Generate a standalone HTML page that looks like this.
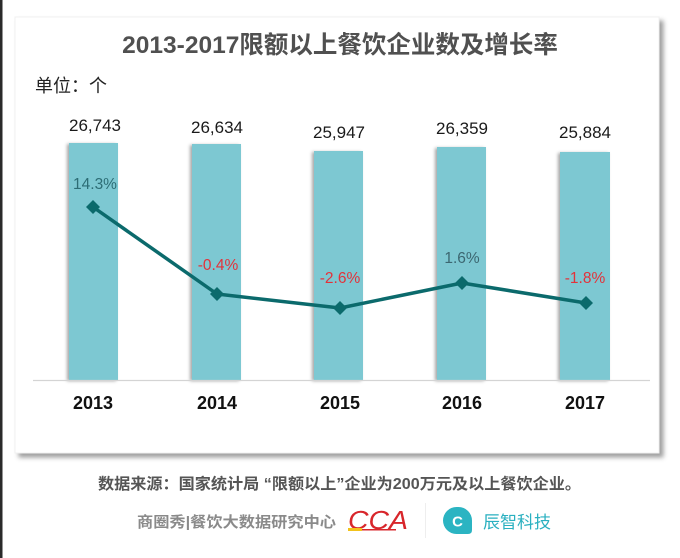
<!DOCTYPE html>
<html>
<head>
<meta charset="utf-8">
<style>
  html,body{margin:0;padding:0;background:#fff;}
  body{width:680px;height:558px;overflow:hidden;position:relative;}
  svg{position:absolute;left:0;top:0;}
  text{font-family:"Liberation Sans","Noto Sans CJK SC",sans-serif;}
</style>
</head>
<body>
<svg width="680" height="558" viewBox="0 0 680 558" xmlns="http://www.w3.org/2000/svg">
  <defs>
    <filter id="cardsh" x="-5%" y="-5%" width="115%" height="115%">
      <feDropShadow dx="4" dy="4" stdDeviation="2.5" flood-color="#000" flood-opacity="0.38"/>
    </filter>
    <filter id="barsh" x="-20%" y="-5%" width="140%" height="115%">
      <feDropShadow dx="-2" dy="1" stdDeviation="1.5" flood-color="#000" flood-opacity="0.35"/>
    </filter>
  </defs>

  <rect x="0" y="0" width="680" height="558" fill="#ffffff"/>
  <!-- left dark border -->
  <rect x="0" y="0" width="2.5" height="558" fill="#2a2a2a"/>

  <!-- card -->
  <rect x="15" y="17" width="644" height="436" fill="#ffffff" stroke="#f0f0f0" stroke-width="1" filter="url(#cardsh)"/>

  <!-- title -->
  <text x="340" y="53" text-anchor="middle" font-size="24.5" font-weight="bold" fill="#505050">2013-2017限额以上餐饮企业数及增长率</text>

  <!-- unit -->
  <text x="35" y="92" font-size="18" fill="#222">单位：个</text>

  <!-- bars -->
  <g fill="#7dc8d2" filter="url(#barsh)">
    <rect x="69" y="143" width="49" height="237"/>
    <rect x="192" y="144" width="49" height="236"/>
    <rect x="314" y="151" width="49" height="229"/>
    <rect x="437" y="147" width="49" height="233"/>
    <rect x="560" y="152" width="50" height="228"/>
  </g>

  <!-- axis -->
  <line x1="33" y1="380.5" x2="650" y2="380.5" stroke="#d4d4d4" stroke-width="1.2"/>

  <!-- value labels -->
  <g font-size="17" fill="#1a1a1a" text-anchor="middle">
    <text x="95" y="131">26,743</text>
    <text x="217" y="133">26,634</text>
    <text x="339" y="138">25,947</text>
    <text x="462" y="134">26,359</text>
    <text x="585" y="138">25,884</text>
  </g>

  <!-- line -->
  <polyline points="93,207 217,294 340,308 462,283 586,303" fill="none" stroke="#0b6a6c" stroke-width="3.5" stroke-linejoin="round"/>
  <g fill="#0b6a6c">
    <polygon points="93,200 100,207 93,214 86,207"/>
    <polygon points="217,287 224,294 217,301 210,294"/>
    <polygon points="340,301 347,308 340,315 333,308"/>
    <polygon points="462,276 469,283 462,290 455,283"/>
    <polygon points="586,296 593,303 586,310 579,303"/>
  </g>

  <!-- percentage labels -->
  <g font-size="15.5" text-anchor="middle">
    <text x="95" y="189" fill="#2d6d75">14.3%</text>
    <text x="218" y="270" fill="#e3323a">-0.4%</text>
    <text x="340" y="283" fill="#e3323a">-2.6%</text>
    <text x="462" y="263" fill="#3c6771">1.6%</text>
    <text x="585" y="283" fill="#e3323a">-1.8%</text>
  </g>

  <!-- year labels -->
  <g font-size="18" font-weight="bold" fill="#111" text-anchor="middle">
    <text x="93" y="409">2013</text>
    <text x="217" y="409">2014</text>
    <text x="340" y="409">2015</text>
    <text x="462" y="409">2016</text>
    <text x="585" y="409">2017</text>
  </g>

  <!-- source -->
  <text x="98" y="489" font-size="15.5" font-weight="bold" fill="#555" textLength="483" lengthAdjust="spacingAndGlyphs">数据来源：国家统计局 “限额以上”企业为200万元及以上餐饮企业。</text>

  <text x="137" y="527" font-size="15" font-weight="bold" fill="#8a8a8a" textLength="199" lengthAdjust="spacingAndGlyphs">商圈秀|餐饮大数据研究中心</text>

  <!-- CCA logo -->
  <text x="348" y="529" font-size="26" font-style="italic" font-family="Liberation Serif, serif" fill="#d8262b" textLength="60" lengthAdjust="spacingAndGlyphs">CCA</text>
  <rect x="348" y="528" width="14" height="3" fill="#f2c21b"/>
  <rect x="362" y="529" width="34" height="1.5" fill="#d8262b"/>

  <!-- divider -->
  <line x1="425.5" y1="503" x2="425.5" y2="538" stroke="#eeeeee" stroke-width="1"/>

  <!-- teal icon -->
  <path d="M443,520.5 A13.5,13.5 0 0 1 456.5,507 L458.5,507 A13.5,13.5 0 0 1 472,520.5 L472,530 Q472,534 468,534 L456.5,534 A13.5,13.5 0 0 1 443,520.5 Z" fill="#2bb4c2"/>
  <text x="457.5" y="526.5" font-size="15" font-weight="bold" fill="#ffffff" text-anchor="middle">C</text>

  <text x="483" y="528" font-size="17" fill="#2ab0c0" textLength="68" lengthAdjust="spacingAndGlyphs">辰智科技</text>
</svg>
</body>
</html>
